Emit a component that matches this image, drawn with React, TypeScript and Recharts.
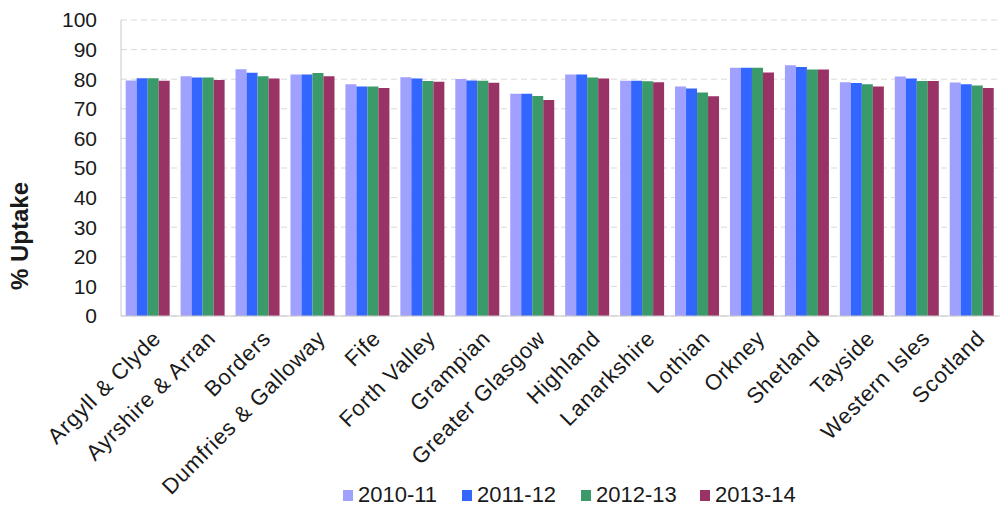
import React from 'react';
import { BarChart, Bar, XAxis, YAxis, CartesianGrid, Legend } from 'recharts';

const boards = [
  'Argyll & Clyde', 'Ayrshire & Arran', 'Borders', 'Dumfries & Galloway', 'Fife',
  'Forth Valley', 'Grampian', 'Greater Glasgow', 'Highland', 'Lanarkshire',
  'Lothian', 'Orkney', 'Shetland', 'Tayside', 'Western Isles', 'Scotland',
];

const y2010 = [79.6, 81.0, 83.4, 81.6, 78.3, 80.7, 80.1, 75.1, 81.6, 79.5, 77.5, 83.9, 84.7, 79.0, 80.9, 78.9];
const y2011 = [80.3, 80.6, 82.2, 81.6, 77.5, 80.2, 79.6, 75.1, 81.6, 79.5, 76.9, 83.9, 84.1, 78.7, 80.2, 78.3];
const y2012 = [80.3, 80.6, 81.0, 82.1, 77.5, 79.4, 79.5, 74.3, 80.6, 79.3, 75.5, 83.9, 83.3, 78.3, 79.4, 77.9];
const y2013 = [79.5, 79.7, 80.2, 81.0, 77.0, 79.1, 78.8, 73.0, 80.2, 79.0, 74.2, 82.3, 83.3, 77.5, 79.4, 77.0];

const yTicks = [0, 10, 20, 30, 40, 50, 60, 70, 80, 90, 100];

const series = [
  { key: '2010-11', color: '#a0a0ff' },
  { key: '2011-12', color: '#3366ff' },
  { key: '2012-13', color: '#3a9a6a' },
  { key: '2013-14', color: '#993366' },
];

const data = boards.map((name, i) => ({
  name,
  '2010-11': y2010[i],
  '2011-12': y2011[i],
  '2012-13': y2012[i],
  '2013-14': y2013[i],
}));

const font = '"Liberation Sans", Arial, sans-serif';

const AngledTick = (props: any) => {
  const { x, y, payload } = props;
  return (
    <g transform={`translate(${x + 8},${y + 10})`}>
      <text
        transform="rotate(-45)"
        textAnchor="end"
        fontSize={22}
        letterSpacing={0.8}
        fontFamily={font}
        fill="#1a1a1a"
        dy={8}
      >
        {payload.value}
      </text>
    </g>
  );
};

const LegendBox = () => (
  <div style={{ display: 'flex', justifyContent: 'flex-start', paddingLeft: 343, fontFamily: font, fontSize: 22, color: '#1a1a1a' }}>
    {series.map((s) => (
      <div key={s.key} style={{ display: 'flex', alignItems: 'center', width: 119 }}>
        <span style={{ display: 'inline-block', width: 10, height: 11, background: s.color, marginRight: 5 }} />
        <span>{s.key}</span>
      </div>
    ))}
  </div>
);

const App = () => {
  return (
    <div style={{ width: 1002, height: 514 }}>
      <style>{`body{margin:0}`}</style>
      <BarChart
        width={1002}
        height={514}
        data={data}
        margin={{ top: 20, right: 2, left: 0, bottom: 6 }}
        barCategoryGap="8.5%"
        barGap={0}
      >
        <CartesianGrid vertical={false} stroke="#d9d9d9" strokeDasharray="6 4" />
        <XAxis
          dataKey="name"
          interval={0}
          height={166}
          tick={<AngledTick />}
          tickLine={false}
          axisLine={{ stroke: '#c8c8c8' }}
        />
        <YAxis
          domain={[0, 100]}
          ticks={yTicks}
          width={121}
          interval={0}
          tickLine={false}
          axisLine={{ stroke: '#c8c8c8' }}
          tick={{ fontSize: 21, fill: '#1a1a1a', fontFamily: font }}
          tickMargin={18}
          label={{
            value: '% Uptake',
            angle: -90,
            position: 'insideLeft',
            dx: 14,
            dy: 68,
            style: { fontSize: 24, fontWeight: 'bold', fill: '#1a1a1a', fontFamily: font, textAnchor: 'middle' },
          }}
        />
        <Legend verticalAlign="bottom" content={<LegendBox />} />
        {series.map((s) => (
          <Bar key={s.key} dataKey={s.key} fill={s.color} isAnimationActive={false} />
        ))}
      </BarChart>
    </div>
  );
};

export default App;
